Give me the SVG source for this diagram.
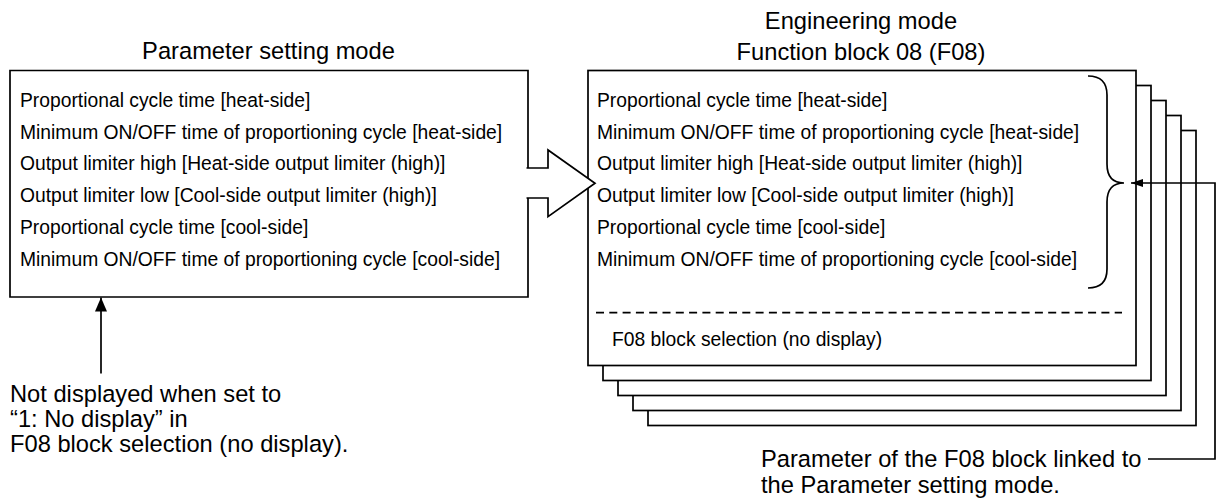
<svg xmlns="http://www.w3.org/2000/svg" width="1216" height="502" viewBox="0 0 1216 502">
<style>
text{font-family:"Liberation Sans",Arial,sans-serif;fill:#000}
.t{font-size:23.7px}
.b{font-size:19.3px}
.s{fill:#fff;stroke:#000;stroke-width:1.7}
.ln{fill:none;stroke:#000;stroke-width:1.7}
</style>
<defs>
<marker id="ah" viewBox="0 0 12 8" refX="12" refY="4" markerWidth="12" markerHeight="8" markerUnits="userSpaceOnUse" orient="auto"><path d="M0,0 L12,4 L0,8 Z" fill="#000"/></marker>
<marker id="ah2" viewBox="0 0 14 12" refX="14" refY="6" markerWidth="14" markerHeight="12" markerUnits="userSpaceOnUse" orient="auto"><path d="M0,0 L14,6 L0,12 Z" fill="#000"/></marker>
</defs>

<g id="param-mode">
<text class="t" x="268.5" y="59.3" text-anchor="middle">Parameter setting mode</text>
<path class="s" d="M528,168 L528,70.5 L10,70.5 L10,297 L528,297 L528,198"/>
<text class="b" x="20" y="107">Proportional cycle time [heat-side]</text>
<text class="b" x="20" y="138.7">Minimum ON/OFF time of proportioning cycle [heat-side]</text>
<text class="b" x="20" y="170.4">Output limiter high [Heat-side output limiter (high)]</text>
<text class="b" x="20" y="202">Output limiter low [Cool-side output limiter (high)]</text>
<text class="b" x="20" y="233.8">Proportional cycle time [cool-side]</text>
<text class="b" x="20" y="265.5">Minimum ON/OFF time of proportioning cycle [cool-side]</text>
</g>

<g id="engineering-mode">
<text class="t" x="861" y="29" text-anchor="middle">Engineering mode</text>
<text class="t" x="861" y="60" text-anchor="middle">Function block 08 (F08)</text>
<rect class="s" x="648" y="130.5" width="548" height="295"/>
<rect class="s" x="633" y="115.5" width="548" height="295"/>
<rect class="s" x="618" y="100.5" width="548" height="295"/>
<rect class="s" x="603" y="85.5" width="548" height="295"/>
<rect class="s" x="588" y="70.5" width="548" height="295"/>
<text class="b" x="597" y="107">Proportional cycle time [heat-side]</text>
<text class="b" x="597" y="138.7">Minimum ON/OFF time of proportioning cycle [heat-side]</text>
<text class="b" x="597" y="170.4">Output limiter high [Heat-side output limiter (high)]</text>
<text class="b" x="597" y="202">Output limiter low [Cool-side output limiter (high)]</text>
<text class="b" x="597" y="233.8">Proportional cycle time [cool-side]</text>
<text class="b" x="597" y="265.5">Minimum ON/OFF time of proportioning cycle [cool-side]</text>
<line class="ln" x1="596" y1="312.7" x2="1122" y2="312.7" stroke-dasharray="8 5.3"/>
<text class="b" x="612" y="345.5">F08 block selection (no display)</text>
<path class="ln" d="M1088,76 Q1107,76 1107,95 L1107,164 Q1107,183 1124,183 Q1107,183 1107,202 L1107,269 Q1107,288 1088,288"/>
</g>

<g id="note-left">
<text class="t" x="10" y="401.5">Not displayed when set to</text>
<text class="t" x="10" y="426.5">“1: No display” in</text>
<text class="t" x="10" y="451.5">F08 block selection (no display).</text>
</g>

<g id="note-right">
<text class="t" x="761" y="467">Parameter of the F08 block linked to</text>
<text class="t" x="761" y="493">the Parameter setting mode.</text>
</g>

<g id="connectors">
<path class="s" d="M526.5,168 L548,168 L548,150 L595,183.3 L548,216.7 L548,198 L526.5,198"/>
<line class="ln" x1="101" y1="373.5" x2="101" y2="297.5" marker-end="url(#ah2)"/>
<polyline class="ln" points="1148,459 1215,459 1215,183 1131,183" marker-end="url(#ah)"/>
</g>
</svg>
